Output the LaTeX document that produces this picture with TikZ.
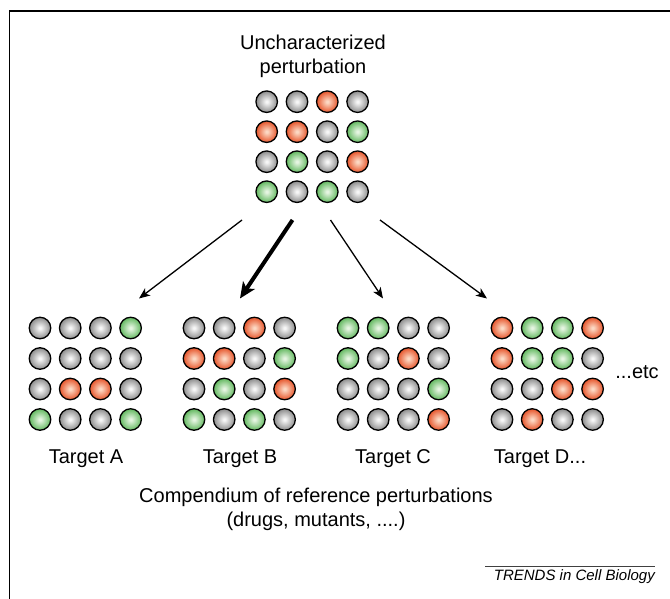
\documentclass[tikz,border=0pt]{standalone}
\usepackage{fontspec}
\setmainfont{Liberation Sans}
\usetikzlibrary{arrows.meta}
\definecolor{gyin}{HTML}{F7F7F7}
\definecolor{gyout}{HTML}{8C8C8C}
\definecolor{rdin}{HTML}{FCD9C4}
\definecolor{rdout}{HTML}{E6552B}
\definecolor{gnin}{HTML}{E6F5E2}
\definecolor{gnout}{HTML}{62B85F}
\pgfdeclareradialshading{shgy}{\pgfpoint{0bp}{0bp}}{color(0bp)=(gyin); color(2bp)=(gyin); color(25bp)=(gyout); color(50bp)=(gyout)}
\pgfdeclareradialshading{shrd}{\pgfpoint{0bp}{0bp}}{color(0bp)=(rdin); color(2bp)=(rdin); color(25bp)=(rdout); color(50bp)=(rdout)}
\pgfdeclareradialshading{shgn}{\pgfpoint{0bp}{0bp}}{color(0bp)=(gnin); color(2bp)=(gnin); color(25bp)=(gnout); color(50bp)=(gnout)}
\tikzset{
  ballbase/.style={circle, draw=black, line width=1.3pt, minimum size=21.5pt, inner sep=0pt},
  ballgy/.style={ballbase, shading=shgy},
  ballrd/.style={ballbase, shading=shrd},
  ballgn/.style={ballbase, shading=shgn},
  lbl/.style={font=\fontsize{20}{24}\selectfont, inner sep=0pt, anchor=base},
  thinarrow/.style={line width=1.3pt, -{Stealth[length=11pt, width=9pt, inset=3pt]}},
  thickarrow/.style={line width=4pt, -{Stealth[length=16pt, width=14pt, inset=4pt]}},
  frame/.style={line width=1.5pt}
}
\newcommand{\ballgrid}[6]{%
  \foreach \c [count=\i from 0] in {#6} {
    \pgfmathtruncatemacro\rr{div(\i,4)}
    \pgfmathtruncatemacro\kk{mod(\i,4)}
    \node[ball\c] (#1-\rr-\kk) at ({#2+\kk*#4},{#3+\rr*#5}) {};
  }%
}
\begin{document}
\begin{tikzpicture}[x=1pt,y=-1pt]
\useasboundingbox (0,0) rectangle (670,599);
% frame (top and left only)
\coordinate (fl) at (9.5,599);
\coordinate (ftl) at (9.5,11);
\coordinate (fr) at (670,11);
\draw[frame] (fl) -- (ftl) -- (fr);

% title
\node[lbl] (t1) at (313,50) {Uncharacterized};
\node[lbl] (t2) at (313,74) {perturbation};

% top grid
\ballgrid{u}{266.7}{101.7}{30.3}{30}{gy,gy,rd,gy, rd,rd,gy,gn, gy,gn,gy,rd, gn,gy,gn,gy}

% target grids
\ballgrid{a}{40}{328}{30.2}{30.5}{gy,gy,gy,gn, gy,gy,gy,gy, gy,rd,rd,gy, gn,gy,gy,gn}
\ballgrid{b}{194}{328}{30.2}{30.5}{gy,gy,rd,gy, rd,rd,gy,gn, gy,gn,gy,rd, gn,gy,gn,gy}
\ballgrid{c}{348}{328}{30.2}{30.5}{gn,gn,gy,gy, gn,gy,rd,gy, gy,gy,gy,gn, gy,gy,gy,rd}
\ballgrid{d}{502}{328}{30.2}{30.5}{rd,gn,gn,rd, rd,gn,gn,gy, gy,gy,rd,rd, gy,rd,gy,gy}

% arrows
\coordinate (sa) at (242,220);
\coordinate (ea) at (139,298.5);
\coordinate (sb) at (292.5,220);
\coordinate (eb) at (240,298.5);
\coordinate (sc) at (330.5,220);
\coordinate (ec) at (383,298.5);
\coordinate (sd) at (380,220);
\coordinate (ed) at (487,298.5);
\draw[thinarrow] (sa) -- (ea);
\draw[thickarrow] (sb) -- (eb);
\draw[thinarrow] (sc) -- (ec);
\draw[thinarrow] (sd) -- (ed);

% labels
\node[lbl] (la) at (86,463) {Target A};
\node[lbl] (lb) at (240,463) {Target B};
\node[lbl] (lc) at (393,463) {Target C};
\node[lbl] (ld) at (540,463) {Target D...};
\node[lbl] (etc) at (637,378) {...etc};

\node[lbl] (comp1) at (316,502) {Compendium of reference perturbations};
\node[lbl] (comp2) at (316,526) {(drugs, mutants, ....)};

% journal tag
\node[font=\fontsize{15}{18}\selectfont\itshape, inner sep=0pt, anchor=base east] (trends) at (655,580) {TRENDS in Cell Biology};
\coordinate (rl) at (485,566);
\coordinate (rr) at (655,566);
\draw[line width=1pt, black!75] (rl) -- (rr);
\end{tikzpicture}
\end{document}
